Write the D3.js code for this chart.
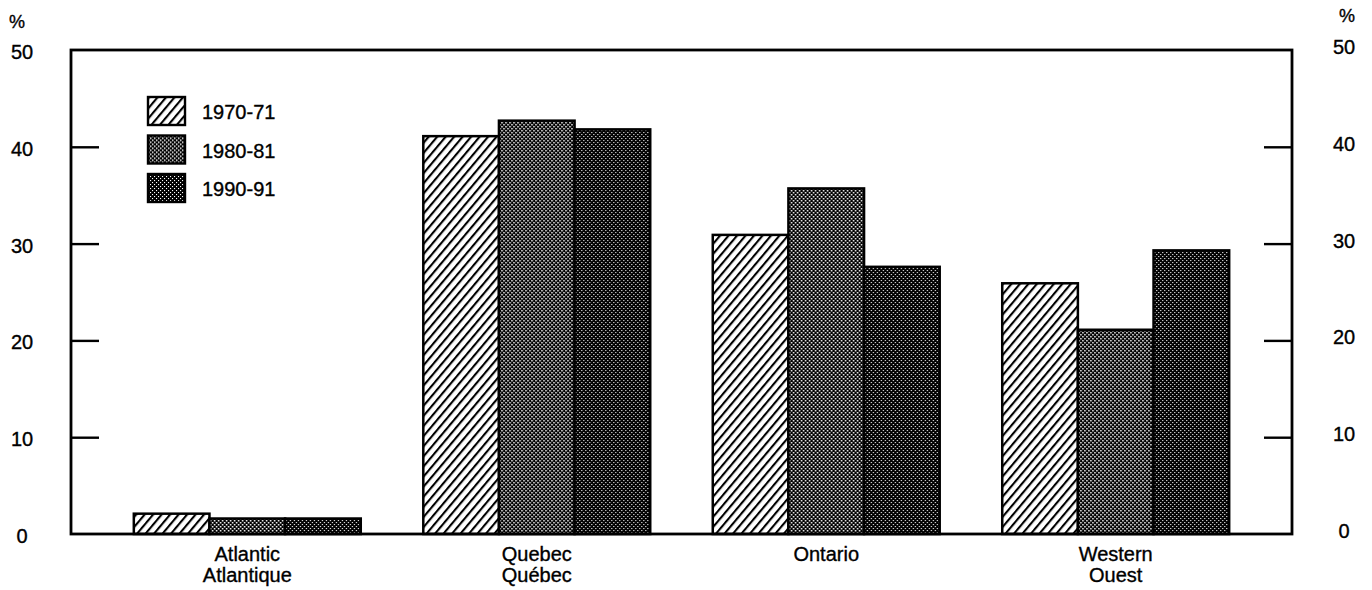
<!DOCTYPE html>
<html>
<head>
<meta charset="utf-8">
<script src="https://cdn.jsdelivr.net/npm/d3@7"></script>
<style>
    body { margin: 0; background: #fff; }
    svg text { font-family: "Liberation Sans", Arial, sans-serif; fill: #000; stroke: #000; stroke-width: 0.35px; }
</style>
</head>
<body>
<div id="chart"></div>
<script>
// regions along the x axis (english / french)
const regions = ["Atlantic", "Quebec", "Ontario", "Western"];
const regionLabels = [["Atlantic", "Atlantique"], ["Quebec", "Québec"], ["Ontario"], ["Western", "Ouest"]];
const years = ["1970-71", "1980-81", "1990-91"];

// share in % per region, one array per year
const values1970 = [2.1, 41.1, 30.9, 25.9];
const values1980 = [1.6, 42.7, 35.7, 21.1];
const values1990 = [1.6, 41.8, 27.6, 29.3];

const yTicks = [0, 10, 20, 30, 40, 50];

const width = 1372, height = 590;
const margin = { top: 50, right: 80, bottom: 56, left: 71 };

const svg = d3.select("#chart").append("svg")
    .attr("width", width)
    .attr("height", height);

// fill patterns: hatch + two halftones
const defs = svg.append("defs");

const hatch = defs.append("pattern")
    .attr("id", "hatch")
    .attr("patternUnits", "userSpaceOnUse")
    .attr("width", 6.5).attr("height", 6.5)
    .attr("patternTransform", "rotate(40)");
hatch.append("rect").attr("width", 6.5).attr("height", 6.5).attr("fill", "#fff");
hatch.append("rect").attr("x", 0).attr("width", 2.1).attr("height", 6.5).attr("fill", "#000");

function halftone(id, dot) {
    const p = defs.append("pattern")
        .attr("id", id)
        .attr("patternUnits", "userSpaceOnUse")
        .attr("width", 4).attr("height", 4);
    p.append("rect").attr("width", 4).attr("height", 4).attr("fill", "#000");
    p.append("rect").attr("x", 0).attr("y", 0).attr("width", dot).attr("height", dot).attr("fill", "#fff");
    p.append("rect").attr("x", 2).attr("y", 2).attr("width", dot).attr("height", dot).attr("fill", "#fff");
}
halftone("dots80", 1.5);
halftone("dots90", 1.1);

const fills = { "1970-71": "url(#hatch)", "1980-81": "url(#dots80)", "1990-91": "url(#dots90)" };

const x0 = margin.left, x1 = width - margin.right;
const y0 = height - margin.bottom, y1 = margin.top;

const x = d3.scaleBand()
    .domain(regions)
    .range([x0, x1])
    .paddingInner(0.216)
    .paddingOuter(0.217);

const xInner = d3.scaleBand()
    .domain(years)
    .range([0, x.bandwidth()]);

const y = d3.scaleLinear()
    .domain([0, 50])
    .range([y0, y1]);

// table built from the arrays
const series = years.map((yr, i) => ({
    year: yr,
    values: [values1970, values1980, values1990][i]
}));

// bars
const groups = svg.selectAll(".region")
    .data(regions)
    .enter().append("g")
    .attr("class", "region")
    .attr("transform", d => `translate(${x(d)},0)`);

groups.selectAll("rect")
    .data((d, i) => series.map(s => ({ year: s.year, value: s.values[i] })))
    .enter().append("rect")
    .attr("x", d => xInner(d.year))
    .attr("y", d => y(d.value))
    .attr("width", xInner.bandwidth())
    .attr("height", d => y(0) - y(d.value))
    .attr("fill", d => fills[d.year])
    .attr("stroke", "#000")
    .attr("stroke-width", 2.5);

// frame
svg.append("rect")
    .attr("x", x0).attr("y", y1)
    .attr("width", x1 - x0).attr("height", y0 - y1)
    .attr("fill", "none")
    .attr("stroke", "#000")
    .attr("stroke-width", 2.8);

// left axis: ticks inside, labels out at the page edge
const leftAxis = svg.append("g").attr("transform", `translate(${x0},0)`)
    .call(d3.axisRight(y).tickValues(yTicks.slice(1, -1)).tickSize(28).tickFormat(""));
leftAxis.select(".domain").remove();
leftAxis.selectAll("line").attr("stroke-width", 2.4);

const rightAxis = svg.append("g").attr("transform", `translate(${x1},0)`)
    .call(d3.axisLeft(y).tickValues(yTicks.slice(1, -1)).tickSize(28).tickFormat(""));
rightAxis.select(".domain").remove();
rightAxis.selectAll("line").attr("stroke-width", 2.4);

svg.selectAll(".ylab-left")
    .data(yTicks)
    .enter().append("text")
    .attr("class", "ylab-left")
    .attr("x", 22)
    .attr("y", d => y(d) + 2)
    .attr("dy", "0.35em")
    .attr("text-anchor", "middle")
    .style("font-size", "20px")
    .text(d => d);

svg.selectAll(".ylab-right")
    .data(yTicks)
    .enter().append("text")
    .attr("class", "ylab-right")
    .attr("x", 1344)
    .attr("y", d => y(d) - 3)
    .attr("dy", "0.35em")
    .attr("text-anchor", "middle")
    .style("font-size", "20px")
    .text(d => d);

svg.append("text").attr("x", 17).attr("y", 22).attr("dy", "0.35em")
    .attr("text-anchor", "middle").style("font-size", "18px").text("%");
svg.append("text").attr("x", 1347).attr("y", 16).attr("dy", "0.35em")
    .attr("text-anchor", "middle").style("font-size", "18px").text("%");

// category labels
svg.selectAll(".xlab")
    .data(regions)
    .enter().append("text")
    .attr("class", "xlab")
    .attr("x", d => x(d) + x.bandwidth() / 2)
    .attr("y", y0 + 27)
    .attr("text-anchor", "middle")
    .style("font-size", "20px")
    .each(function(d, i) {
        d3.select(this).selectAll("tspan")
            .data(regionLabels[i])
            .enter().append("tspan")
            .attr("x", x(d) + x.bandwidth() / 2)
            .attr("dy", (t, j) => j === 0 ? 0 : 21)
            .text(t => t);
    });

// legend
const legend = svg.append("g").attr("transform", "translate(148,97)");
const legendItems = legend.selectAll(".item")
    .data(years)
    .enter().append("g")
    .attr("class", "item")
    .attr("transform", (d, i) => `translate(0,${i * 38.5})`);

legendItems.append("rect")
    .attr("width", 37).attr("height", 28)
    .attr("fill", d => fills[d])
    .attr("stroke", "#000")
    .attr("stroke-width", 2.4);

legendItems.append("text")
    .attr("x", 54)
    .attr("y", 15)
    .attr("dy", "0.35em")
    .style("font-size", "20px")
    .text(d => d);
</script>
</body>
</html>
